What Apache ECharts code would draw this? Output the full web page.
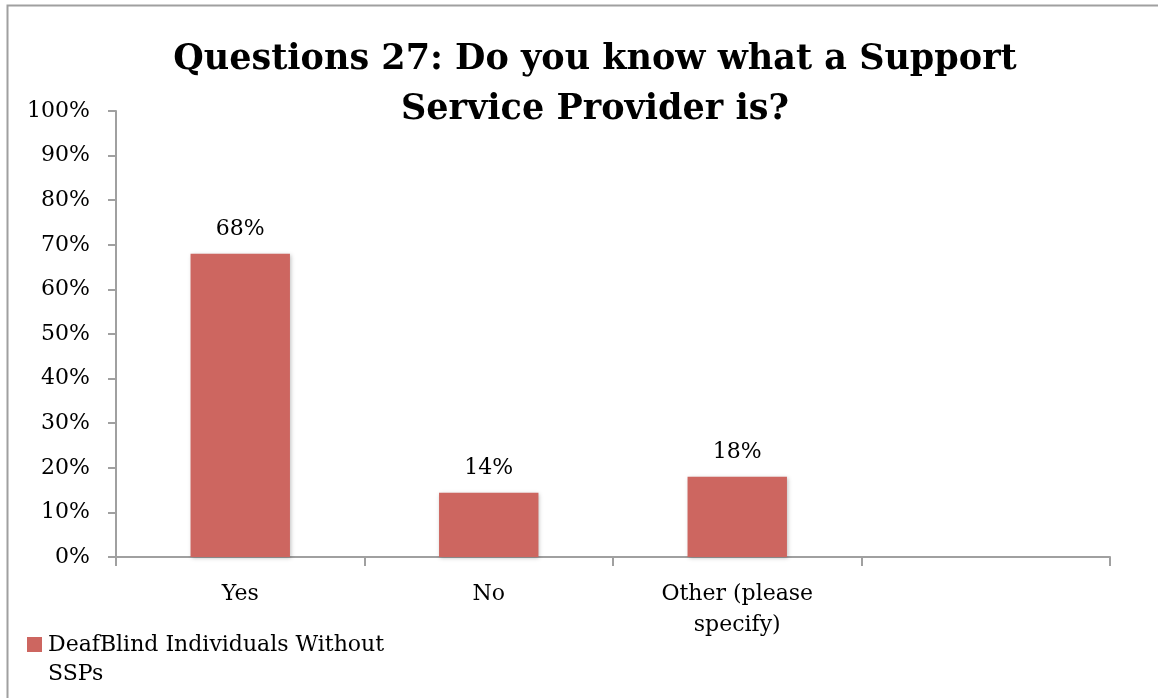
<!DOCTYPE html>
<html>
<head>
<meta charset="utf-8">
<script src="https://cdn.jsdelivr.net/npm/echarts@6/dist/echarts.min.js"></script>
<style>
html,body{margin:0;padding:0;background:#fff;}
#chart{width:1158px;height:698px;}
</style>
</head>
<body>
<div id="chart"></div>
<script>
const categories = ['Yes', 'No', 'Other (please\nspecify)', ''];
const seriesName = 'DeafBlind Individuals Without SSPs';
const values = [68, 14.4, 18, null];
const yTicks = [0, 10, 20, 30, 40, 50, 60, 70, 80, 90, 100];

const FONT = '"DejaVu Serif", "Liberation Serif", serif';
const FS = 22;
const chart = echarts.init(document.getElementById('chart'));
chart.setOption({
  backgroundColor: '#fff',
  animation: false,
  graphic: [{
    type: 'rect', silent: true, z: -1,
    shape: { x: 7.5, y: 5.5, width: 1200, height: 800 },
    style: { fill: 'none', stroke: '#a0a0a0', lineWidth: 2 }
  }],
  title: {
    text: 'Questions 27: Do you know what a Support\nService Provider is?',
    left: 590, top: 30, textAlign: 'center',
    textStyle: { fontFamily: FONT, fontWeight: 'bold', fontSize: 35, lineHeight: 50, color: '#000' }
  },
  legend: {
    left: 22, top: 626, orient: 'vertical',
    itemWidth: 15, itemHeight: 46, itemGap: 4,
    icon: 'path://M0,0L15,0L15,15L0,15Z M0,46L0.01,46L0.01,46.01Z',
    formatter: () => 'DeafBlind Individuals Without\nSSPs',
    textStyle: { fontFamily: FONT, fontSize: FS, lineHeight: 29, color: '#000', padding: [0, 0, 0, 1] }
  },
  grid: { left: 116, right: 48, top: 111, bottom: 141, containLabel: false },
  xAxis: {
    type: 'category', data: categories,
    axisLine: { lineStyle: { color: '#a0a0a0', width: 2 } },
    axisTick: { show: true, alignWithLabel: false, length: 9, lineStyle: { color: '#a0a0a0', width: 2 } },
    axisLabel: { fontFamily: FONT, fontSize: FS, lineHeight: 31, color: '#000', margin: 22, interval: 0 },
    splitLine: { show: false }
  },
  yAxis: {
    type: 'value', min: yTicks[0], max: yTicks[yTicks.length - 1], interval: 10,
    axisLine: { show: true, lineStyle: { color: '#a0a0a0', width: 2 } },
    axisTick: { show: true, length: 8, lineStyle: { color: '#a0a0a0', width: 2 } },
    axisLabel: { fontFamily: FONT, fontSize: FS, color: '#000', margin: 26, formatter: v => v + '%' },
    splitLine: { show: false }
  },
  series: [{
    name: seriesName, type: 'bar', data: values, barWidth: '40%',
    itemStyle: { color: '#CD6660', shadowColor: 'rgba(0,0,0,0.25)', shadowBlur: 4, shadowOffsetX: 1, shadowOffsetY: 1 },
    label: {
      show: true, position: 'top', distance: 13,
      fontFamily: FONT, fontSize: FS, color: '#000',
      formatter: p => Math.round(p.value) + '%'
    }
  }]
});
</script>
</body>
</html>
